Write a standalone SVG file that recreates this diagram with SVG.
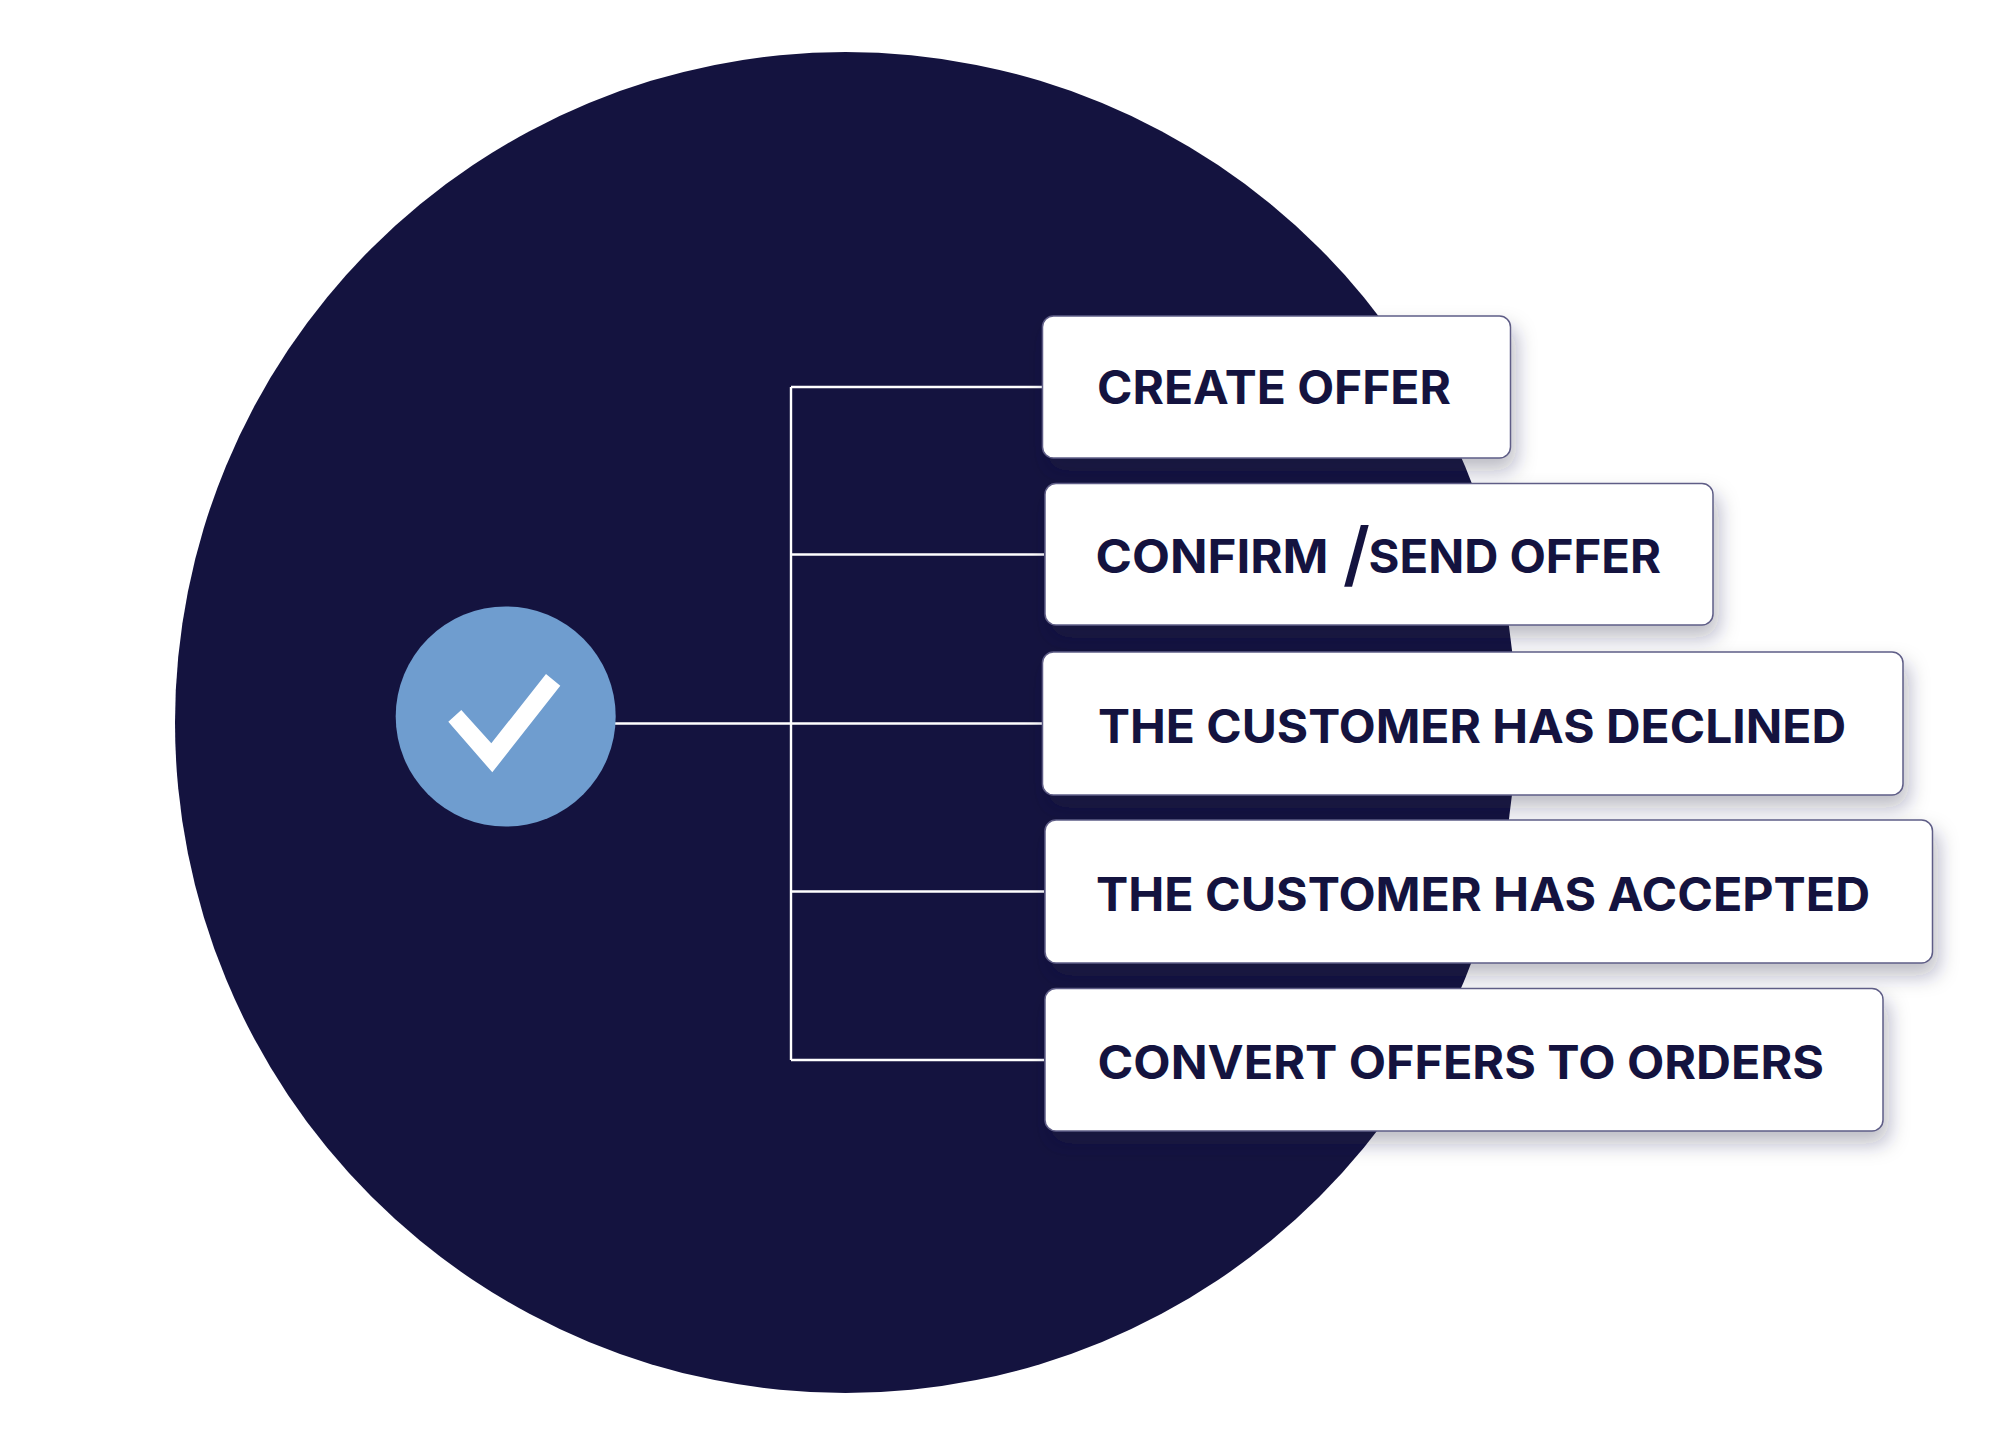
<svg xmlns="http://www.w3.org/2000/svg" width="2000" height="1446" viewBox="0 0 2000 1446">
<style>
.box{fill:#fff;stroke:#5e5d86;stroke-width:1.5;filter:url(#sh)}
.lbl{font-family:Inter,"Liberation Sans",sans-serif;font-weight:700;font-size:46px;fill:#14133f}
.ln{fill:none;stroke:#fff;stroke-width:2.4}
</style>
<defs><filter id="sh" x="-10%" y="-30%" width="120%" height="170%"><feDropShadow dx="5" dy="12" stdDeviation="10" flood-color="#14133f" flood-opacity="0.3"/></filter></defs>
<rect width="2000" height="1446" fill="#fff"/>
<circle id="backdrop" cx="845.5" cy="722.5" r="670.5" fill="#14133f"/>
<g id="connectors">
<path class="ln" d="M615 723.5H1044M791 387V1060M791 387H1044M791 554.5H1044M791 891.5H1044M791 1060H1044"/>
</g>
<g id="check-node">
<circle cx="505.7" cy="716.5" r="110" fill="#6f9dcf"/>
<polygon points="448.3,721.7 461.3,710 491.3,743.3 546,674 560.3,685.7 492.3,772.3" fill="#fff"/>
</g>
<g id="node-1"><rect class="box" x="1042.5" y="316" width="468" height="142" rx="11"/><text class="lbl" x="1097" y="403.5" textLength="354" lengthAdjust="spacingAndGlyphs">CREATE OFFER</text></g>
<g id="node-2"><rect class="box" x="1045" y="483.5" width="668" height="141.5" rx="11"/><text class="lbl" y="573"><tspan x="1095.5" textLength="233" lengthAdjust="spacingAndGlyphs">CONFIRM</tspan> <tspan x="1343" font-size="71" font-weight="600" dy="6">/</tspan><tspan x="1368.5" dy="-6" textLength="292.5" lengthAdjust="spacingAndGlyphs">SEND OFFER</tspan></text></g>
<g id="node-3"><rect class="box" x="1042.5" y="652" width="860.5" height="143" rx="11"/><text class="lbl" x="1098" y="742.5" textLength="748" lengthAdjust="spacingAndGlyphs">THE CUSTOMER HAS DECLINED</text></g>
<g id="node-4"><rect class="box" x="1045" y="820" width="887.5" height="143" rx="11"/><text class="lbl" x="1096" y="911" textLength="774" lengthAdjust="spacingAndGlyphs">THE CUSTOMER HAS ACCEPTED</text></g>
<g id="node-5"><rect class="box" x="1045" y="988.5" width="838" height="142.5" rx="11"/><text class="lbl" x="1097.5" y="1079" textLength="726.5" lengthAdjust="spacingAndGlyphs">CONVERT OFFERS TO ORDERS</text></g>
</svg>
